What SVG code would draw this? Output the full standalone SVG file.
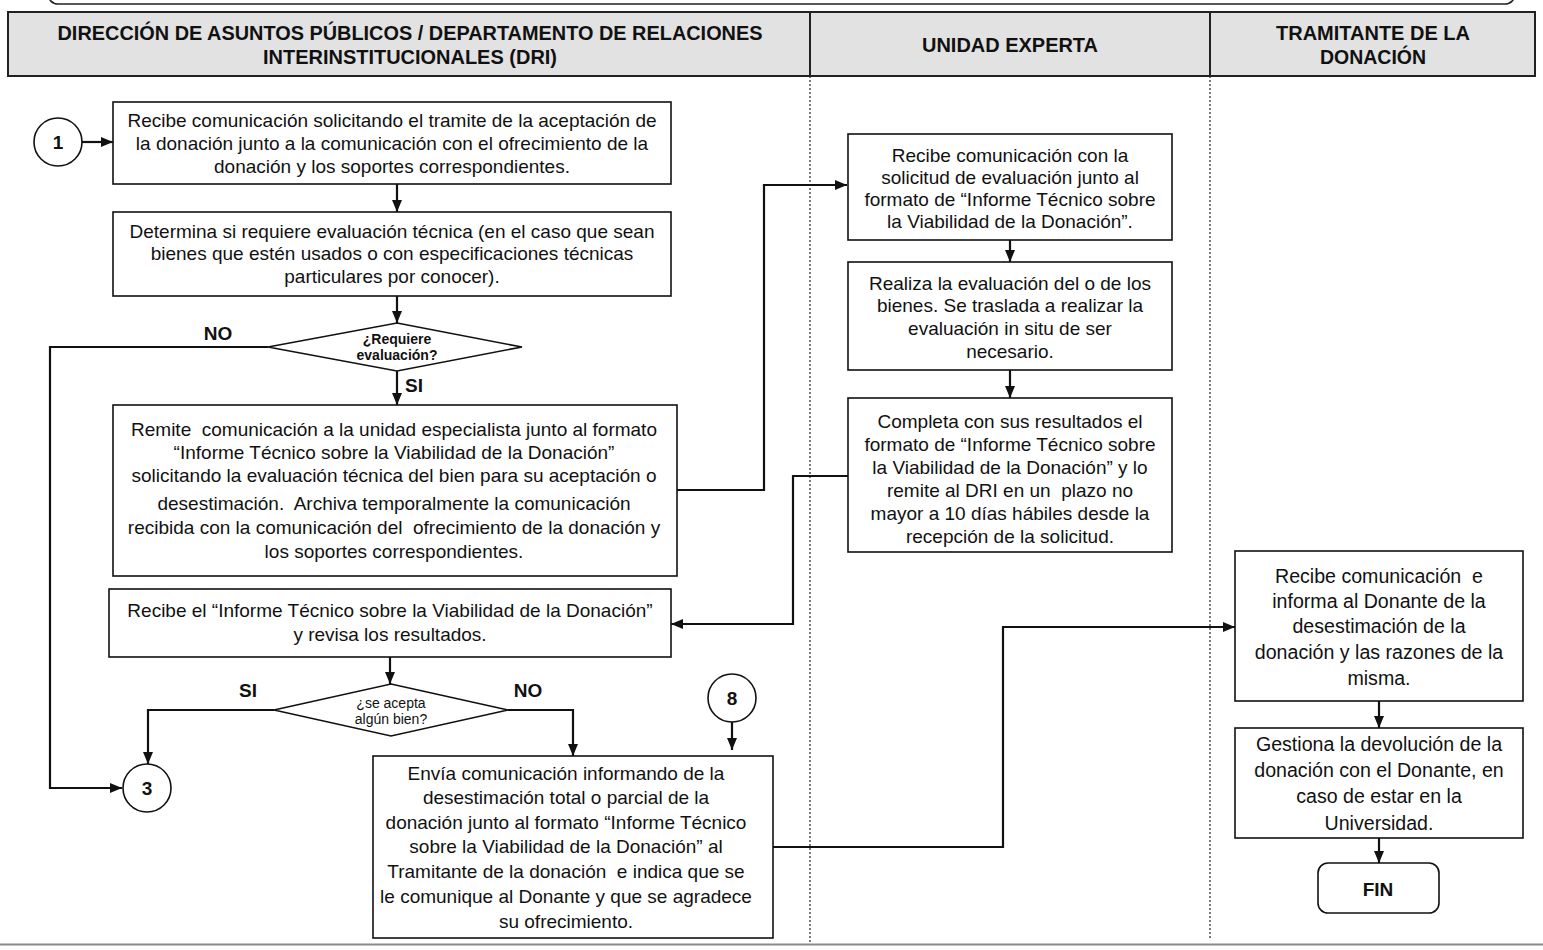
<svg xmlns="http://www.w3.org/2000/svg" width="1543" height="950" viewBox="0 0 1543 950">
  <style>
    .box { fill: #fff; stroke: #111; stroke-width: 1.6; }
    .hdr { fill: #e2e2e2; stroke: #222; stroke-width: 2; }
    .t { font-family: "Liberation Sans", Arial, sans-serif; font-size: 19px; fill: #111; text-anchor: middle; white-space: pre; }
    .tl { font-size: 19.6px; }
    .hb { font-family: "Liberation Sans", Arial, sans-serif; font-size: 20px; font-weight: bold; fill: #111; text-anchor: middle; }
    .lbl { font-family: "Liberation Sans", Arial, sans-serif; font-size: 19px; font-weight: bold; fill: #111; text-anchor: middle; }
    .dq { font-family: "Liberation Sans", Arial, sans-serif; font-size: 14px; fill: #111; text-anchor: middle; }
    .conn { fill: none; stroke: #111; stroke-width: 2.2; }
    .lane { stroke: #222; stroke-width: 1.2; stroke-dasharray: 2 2; }
  </style>
  <defs>
    <marker id="arr" viewBox="0 0 12 10" refX="12" refY="5" markerWidth="12" markerHeight="10" markerUnits="userSpaceOnUse" orient="auto">
      <path d="M0,0 L12,5 L0,10 Z" fill="#111"/>
    </marker>
  </defs>

  <rect width="1543" height="950" fill="#fff"/>

  <!-- frame above the header -->
  <rect x="48" y="-30" width="1467" height="34" rx="10" fill="none" stroke="#222" stroke-width="1.6"/>

  <!-- lane headers -->
  <g id="headers">
    <rect class="hdr" x="8" y="12" width="802" height="64"/>
    <rect class="hdr" x="810" y="12" width="400" height="64"/>
    <rect class="hdr" x="1210" y="12" width="325" height="64"/>
    <text class="hb" x="410" y="40" textLength="705" lengthAdjust="spacingAndGlyphs">DIRECCIÓN DE ASUNTOS PÚBLICOS / DEPARTAMENTO DE RELACIONES</text>
    <text class="hb" x="410" y="64" textLength="294" lengthAdjust="spacingAndGlyphs">INTERINSTITUCIONALES (DRI)</text>
    <text class="hb" x="1010" y="52" textLength="176" lengthAdjust="spacingAndGlyphs">UNIDAD EXPERTA</text>
    <text class="hb" x="1373" y="40" textLength="194" lengthAdjust="spacingAndGlyphs">TRAMITANTE DE LA</text>
    <text class="hb" x="1373" y="64" textLength="106" lengthAdjust="spacingAndGlyphs">DONACIÓN</text>
  </g>

  <!-- lane separators -->
  <g id="lanes">
    <line class="lane" x1="810" y1="76" x2="810" y2="944"/>
    <line class="lane" x1="1210" y1="76" x2="1210" y2="938"/>
    <line x1="0" y1="944.5" x2="1543" y2="944.5" stroke="#8a8a8a" stroke-width="2"/>
  </g>

  <!-- connectors -->
  <g id="connectors">
    <line class="conn" x1="82" y1="142" x2="113" y2="142" marker-end="url(#arr)"/>
    <line class="conn" x1="397" y1="184" x2="397" y2="212" marker-end="url(#arr)"/>
    <line class="conn" x1="397" y1="296" x2="397" y2="323" marker-end="url(#arr)"/>
    <polyline class="conn" points="268,347 50,347 50,788 122,788" marker-end="url(#arr)"/>
    <line class="conn" x1="397" y1="371" x2="397" y2="405" marker-end="url(#arr)"/>
    <polyline class="conn" points="677,490 764,490 764,185 847,185" marker-end="url(#arr)"/>
    <line class="conn" x1="1010" y1="240" x2="1010" y2="262" marker-end="url(#arr)"/>
    <line class="conn" x1="1010" y1="370" x2="1010" y2="398" marker-end="url(#arr)"/>
    <polyline class="conn" points="848,476 793,476 793,624 671,624" marker-end="url(#arr)"/>
    <line class="conn" x1="390" y1="657" x2="390" y2="684" marker-end="url(#arr)"/>
    <polyline class="conn" points="274,710 148,710 148,764" marker-end="url(#arr)"/>
    <polyline class="conn" points="508,710 573,710 573,756" marker-end="url(#arr)"/>
    <line class="conn" x1="732" y1="722" x2="732" y2="750" marker-end="url(#arr)"/>
    <polyline class="conn" points="773,847 1003,847 1003,627 1235,627" marker-end="url(#arr)"/>
    <line class="conn" x1="1379" y1="701" x2="1379" y2="728" marker-end="url(#arr)"/>
    <line class="conn" x1="1379" y1="838" x2="1379" y2="863" marker-end="url(#arr)"/>
  </g>

  <g id="c1">
    <circle class="box" cx="58" cy="142" r="24"/>
    <text class="lbl" x="58" y="149">1</text>
  </g>

  <g id="n-recibe">
    <rect class="box" x="113" y="102" width="558" height="82"/>
    <text class="t" x="392" y="127">Recibe comunicación solicitando el tramite de la aceptación de</text>
    <text class="t" x="392" y="150">la donación junto a la comunicación con el ofrecimiento de la</text>
    <text class="t" x="392" y="173">donación y los soportes correspondientes.</text>
  </g>

  <g id="n-determina">
    <rect class="box" x="113" y="212" width="558" height="84"/>
    <text class="t" x="392" y="238">Determina si requiere evaluación técnica (en el caso que sean</text>
    <text class="t" x="392" y="260">bienes que estén usados o con especificaciones técnicas</text>
    <text class="t" x="392" y="283">particulares por conocer).</text>
  </g>

  <g id="d-requiere">
    <polygon class="box" points="397,323 522,347 397,371 268,347"/>
    <text class="dq" x="397" y="344" font-weight="bold" font-size="14.5">¿Requiere</text>
    <text class="dq" x="397" y="360" font-weight="bold" font-size="14.5">evaluación?</text>
    <text class="lbl" x="218" y="340">NO</text>
    <text class="lbl" x="414" y="392">SI</text>
  </g>

  <g id="n-remite">
    <rect class="box" x="113" y="405" width="564" height="171"/>
    <text class="t" x="394" y="436">Remite  comunicación a la unidad especialista junto al formato</text>
    <text class="t" x="394" y="459">“Informe Técnico sobre la Viabilidad de la Donación”</text>
    <text class="t" x="394" y="482">solicitando la evaluación técnica del bien para su aceptación o</text>
    <text class="t" x="394" y="510">desestimación.  Archiva temporalmente la comunicación</text>
    <text class="t" x="394" y="534">recibida con la comunicación del  ofrecimiento de la donación y</text>
    <text class="t" x="394" y="558">los soportes correspondientes.</text>
  </g>

  <g id="n-ue-recibe">
    <rect class="box" x="848" y="134" width="324" height="106"/>
    <text class="t" x="1010" y="162">Recibe comunicación con la</text>
    <text class="t" x="1010" y="184">solicitud de evaluación junto al</text>
    <text class="t" x="1010" y="206">formato de “Informe Técnico sobre</text>
    <text class="t" x="1010" y="228">la Viabilidad de la Donación”.</text>
  </g>

  <g id="n-ue-realiza">
    <rect class="box" x="848" y="262" width="324" height="108"/>
    <text class="t" x="1010" y="290">Realiza la evaluación del o de los</text>
    <text class="t" x="1010" y="312">bienes. Se traslada a realizar la</text>
    <text class="t" x="1010" y="335">evaluación in situ de ser</text>
    <text class="t" x="1010" y="358">necesario.</text>
  </g>

  <g id="n-ue-completa">
    <rect class="box" x="848" y="398" width="324" height="154"/>
    <text class="t" x="1010" y="428">Completa con sus resultados el</text>
    <text class="t" x="1010" y="451">formato de “Informe Técnico sobre</text>
    <text class="t" x="1010" y="474">la Viabilidad de la Donación” y lo</text>
    <text class="t" x="1010" y="497">remite al DRI en un  plazo no</text>
    <text class="t" x="1010" y="520">mayor a 10 días hábiles desde la</text>
    <text class="t" x="1010" y="543">recepción de la solicitud.</text>
  </g>

  <g id="n-recibe-informe">
    <rect class="box" x="109" y="589" width="562" height="68"/>
    <text class="t" x="390" y="617">Recibe el “Informe Técnico sobre la Viabilidad de la Donación”</text>
    <text class="t" x="390" y="641">y revisa los resultados.</text>
  </g>

  <g id="d-acepta">
    <polygon class="box" points="391,684 508,710 391,736 274,710"/>
    <text class="dq" x="391" y="708">¿se acepta</text>
    <text class="dq" x="391" y="724">algún bien?</text>
    <text class="lbl" x="248" y="697">SI</text>
    <text class="lbl" x="528" y="697">NO</text>
  </g>

  <g id="c3">
    <circle class="box" cx="147" cy="788" r="24"/>
    <text class="lbl" x="147" y="795">3</text>
  </g>

  <g id="c8">
    <circle class="box" cx="732" cy="698" r="24"/>
    <text class="lbl" x="732" y="705">8</text>
  </g>

  <g id="n-envia">
    <rect class="box" x="373" y="756" width="400" height="182"/>
    <text class="t" x="566" y="780">Envía comunicación informando de la</text>
    <text class="t" x="566" y="804">desestimación total o parcial de la</text>
    <text class="t" x="566" y="829">donación junto al formato “Informe Técnico</text>
    <text class="t" x="566" y="853">sobre la Viabilidad de la Donación” al</text>
    <text class="t" x="566" y="878">Tramitante de la donación  e indica que se</text>
    <text class="t" x="566" y="903">le comunique al Donante y que se agradece</text>
    <text class="t" x="566" y="928">su ofrecimiento.</text>
  </g>

  <g id="n-tr-recibe">
    <rect class="box" x="1235" y="551" width="288" height="150"/>
    <text class="t tl" x="1379" y="583">Recibe comunicación  e</text>
    <text class="t tl" x="1379" y="608">informa al Donante de la</text>
    <text class="t tl" x="1379" y="633">desestimación de la</text>
    <text class="t tl" x="1379" y="659">donación y las razones de la</text>
    <text class="t tl" x="1379" y="685">misma.</text>
  </g>

  <g id="n-tr-gestiona">
    <rect class="box" x="1235" y="728" width="288" height="110"/>
    <text class="t tl" x="1379" y="751">Gestiona la devolución de la</text>
    <text class="t tl" x="1379" y="777">donación con el Donante, en</text>
    <text class="t tl" x="1379" y="803">caso de estar en la</text>
    <text class="t tl" x="1379" y="830">Universidad.</text>
  </g>

  <g id="fin">
    <rect class="box" x="1318" y="863" width="121" height="50" rx="10"/>
    <text class="lbl" x="1378" y="896" font-size="22">FIN</text>
  </g>
</svg>
